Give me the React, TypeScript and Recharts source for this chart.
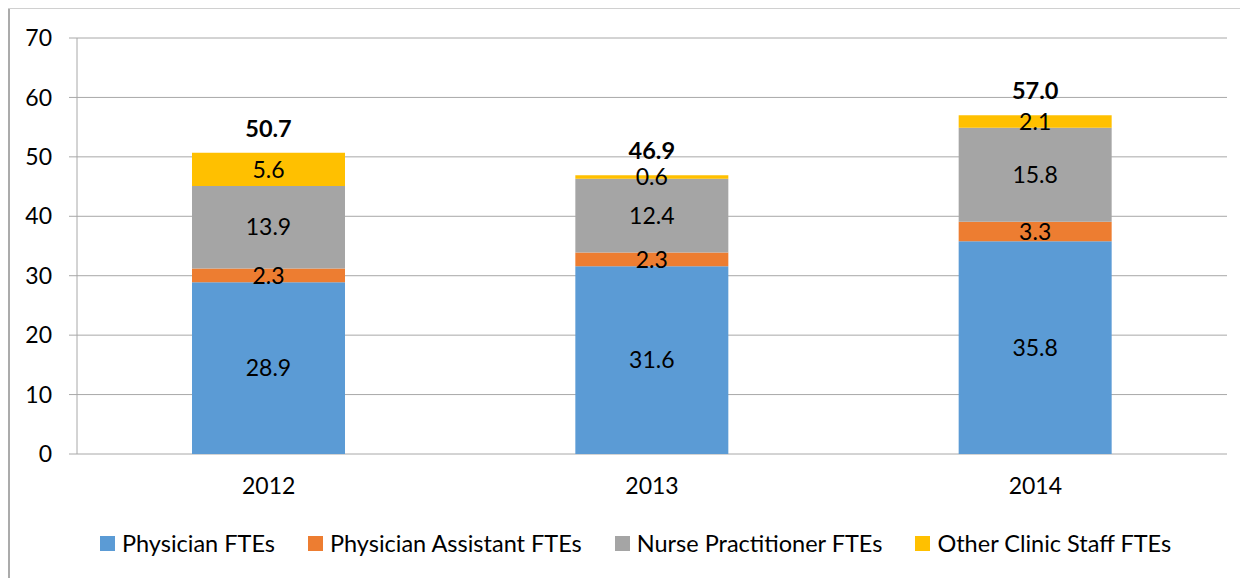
import React from 'react';
import { BarChart, Bar, XAxis, YAxis, CartesianGrid, LabelList } from 'recharts';

const years = ['2012', '2013', '2014'];
const physician = [28.9, 31.6, 35.8];
const physicianAssistant = [2.3, 2.3, 3.3];
const nursePractitioner = [13.9, 12.4, 15.8];
const otherStaff = [5.6, 0.6, 2.1];
const totals = [50.7, 46.9, 57.0];
const yTicks = [0, 10, 20, 30, 40, 50, 60, 70];

const seriesNames = ['Physician FTEs', 'Physician Assistant FTEs', 'Nurse Practitioner FTEs', 'Other Clinic Staff FTEs'];
const seriesKeys = ['physician', 'pa', 'np', 'other'];
const colors = ['#5B9BD5', '#ED7D31', '#A5A5A5', '#FFC000'];

const data = years.map((y, i) => ({
  year: y,
  physician: physician[i],
  pa: physicianAssistant[i],
  np: nursePractitioner[i],
  other: otherStaff[i],
  total: totals[i],
}));

const FONT = 'Lato, "Open Sans", sans-serif';
const AXIS = '#A8A8A8';
const FS = 23;

export default function App() {
  return (
    <div style={{ position: 'relative', width: 1240, height: 570, fontFamily: FONT }}>
      <div style={{ position: 'absolute', left: 0, top: 0, width: 2, height: 570, background: '#ABABAB' }} />
      <div style={{ position: 'absolute', left: 0, top: 0, width: 1240, height: 1, background: '#D0D0D0' }} />
      <div style={{ position: 'absolute', left: 0, top: 0 }}>
        <BarChart
          width={1232}
          height={562}
          data={data}
          margin={{ top: 30, right: 13, left: 29, bottom: 76 }}
          barCategoryGap="30%"
        >
          <CartesianGrid vertical={false} stroke={AXIS} strokeWidth={1} />
          <XAxis
            xAxisId="bounds"
            type="number"
            domain={[0, 3]}
            ticks={[0, 1, 2, 3]}
            allowDataOverflow
            tick={false}
            tickLine={{ stroke: AXIS }}
            tickSize={8}
            axisLine={{ stroke: AXIS }}
            height={0}
          />
          <XAxis
            dataKey="year"
            tickLine={false}
            axisLine={false}
            tickSize={0}
            tickMargin={24}
            height={40}
            tick={{ fill: '#000', fontSize: FS, fontFamily: FONT }}
          />
          <YAxis
            domain={[0, 70]}
            ticks={yTicks}
            width={40}
            tickSize={8}
            tickMargin={17}
            tickLine={{ stroke: AXIS }}
            axisLine={{ stroke: AXIS }}
            tick={{ fill: '#000', fontSize: FS, fontFamily: FONT }}
          />
          {seriesKeys.map((k, i) => (
            <Bar key={k} dataKey={k} stackId="a" fill={colors[i]} isAnimationActive={false}>
              <LabelList
                dataKey={k}
                position="center"
                fill="#000"
                fontSize={FS}
                fontFamily={FONT}
                formatter={(v: number) => v.toFixed(1)}
              />
              {k === 'other' ? (
                <LabelList
                  dataKey="total"
                  position="top"
                  offset={16}
                  fill="#000"
                  fontSize={23.5}
                  fontWeight={700}
                  fontFamily={FONT}
                  formatter={(v: number) => v.toFixed(1)}
                />
              ) : null}
            </Bar>
          ))}
        </BarChart>
      </div>
      <div
        style={{
          position: 'absolute',
          left: 92,
          top: 521,
          display: 'flex',
          alignItems: 'center',
          gap: 33,
          fontSize: 23.5,
          color: '#000',
          whiteSpace: 'nowrap',
        }}
      >
        {seriesNames.map((n, i) => (
          <div key={n} style={{ display: 'flex', alignItems: 'center', gap: 7 }}>
            <div style={{ width: 15, height: 15, background: colors[i] }} />
            <span>{n}</span>
          </div>
        ))}
      </div>
    </div>
  );
}
